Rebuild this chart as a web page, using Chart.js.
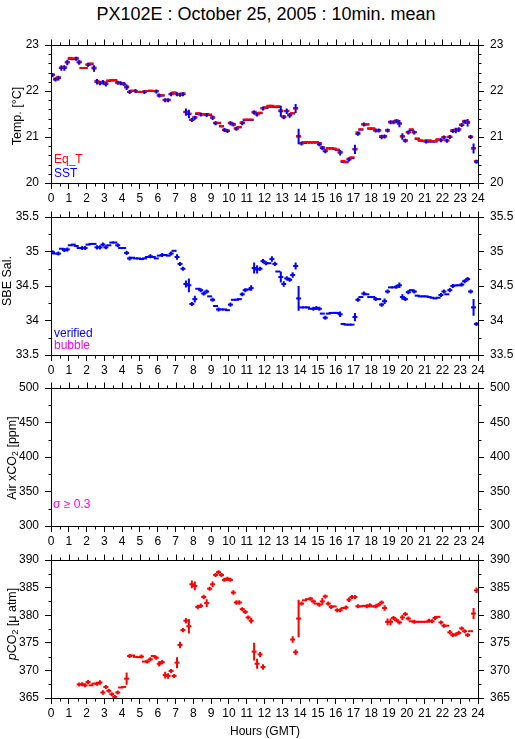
<!DOCTYPE html>
<html>
<head>
<meta charset="utf-8">
<style>
  html,body{margin:0;padding:0;background:#fff;}
  body{width:515px;height:739px;position:relative;overflow:hidden;font-family:"Liberation Sans",Arial,Helvetica,sans-serif;color:#000;}
  canvas{position:absolute;left:0;}
  .t{position:absolute;white-space:nowrap;line-height:1;}
  .yl{position:absolute;width:0;height:0;}
  .yl span{position:absolute;left:0;top:0;transform:translate(-50%,-50%) rotate(-90deg);white-space:nowrap;font-size:12.5px;line-height:1;}
  sub{font-size:70%;vertical-align:-2px;line-height:0;}
</style>
<script src="https://cdn.jsdelivr.net/npm/chart.js@4.4.1/dist/chart.umd.min.js"></script>
</head>
<body>
<div class="t" style="left:266px;top:4.8px;font-size:18px;transform:translateX(-50%)">PX102E : October 25, 2005 : 10min. mean</div>

<canvas id="c1" width="515" height="179" style="top:30px"></canvas>
<canvas id="c2" width="515" height="179" style="top:202px"></canvas>
<canvas id="c3" width="515" height="179" style="top:373px"></canvas>
<canvas id="c4" width="515" height="179" style="top:545px"></canvas>

<div class="yl" style="left:17px;top:116px"><span>Temp. [°C]</span></div>
<div class="yl" style="left:7px;top:281px"><span>SBE Sal.</span></div>
<div class="yl" style="left:12px;top:458px"><span>Air xCO<sub>2</sub> [ppm]</span></div>
<div class="yl" style="left:12px;top:624px"><span><i>p</i>CO<sub>2</sub> [μ atm]</span></div>

<div class="t" style="left:54px;top:153.1px;font-size:12px;color:#f00">Eq_T</div>
<div class="t" style="left:54px;top:166.5px;font-size:12px;color:#00f">SST</div>
<div class="t" style="left:54px;top:326.5px;font-size:12px;color:#00f">verified</div>
<div class="t" style="left:54px;top:339.1px;font-size:12px;color:#f0f">bubble</div>
<div class="t" style="left:53px;top:498.1px;font-size:12px;color:#f0f">σ ≥ 0.3</div>

<div class="t" style="left:265px;top:725.3px;font-size:12px;transform:translateX(-50%)">Hours (GMT)</div>

<script>
// ---------- tick labels ----------
const X_TICKS = [0,1,2,3,4,5,6,7,8,9,10,11,12,13,14,15,16,17,18,19,20,21,22,23,24];
const TEMP_TICKS = [20,21,22,23];
const SAL_TICKS = [33.5,34,34.5,35,35.5];
const AIR_TICKS = [300,350,400,450,500];
const PCO2_TICKS = [365,370,375,380,385,390];

// ---------- 10-min slot centres (minutes, GMT) ----------
const slotMin = [
  5,15,25,35,45,55,65,75,85,95,105,115,
  125,135,145,155,165,175,185,195,205,215,225,235,
  245,255,265,275,285,295,305,315,325,335,345,355,
  365,375,385,395,405,415,425,435,445,455,465,475,
  485,495,505,515,525,535,545,555,565,575,585,595,
  605,615,625,635,645,655,665,675,685,695,705,715,
  725,735,745,755,765,775,785,795,805,815,825,835,
  845,855,865,875,885,895,905,915,925,935,945,955,
  965,975,985,995,1005,1015,1025,1035,1045,1055,1065,1075,
  1085,1095,1105,1115,1125,1135,1145,1155,1165,1175,1185,1195,
  1205,1215,1225,1235,1245,1255,1265,1275,1285,1295,1305,1315,
  1325,1335,1345,1355,1365,1375,1385,1395,1405,1415,1425,1435
];

// ---------- Temperature ----------
const sstVal = [
  22.35,22.25,22.28,22.50,22.50,22.62,22.70,22.69,22.70,22.62,22.50,22.50,
  22.57,22.58,22.49,22.20,22.17,22.19,22.15,22.22,22.23,22.23,22.18,22.17,
  22.15,22.08,21.98,22.00,22.00,21.98,21.98,21.98,22.00,22.00,22.00,21.99,
  21.90,21.90,21.80,21.80,21.93,21.96,21.93,21.92,21.93,21.54,21.50,21.37,
  21.42,21.50,21.49,21.49,21.48,21.48,21.42,21.30,21.30,21.23,21.15,21.13,
  21.30,21.27,21.18,21.21,21.30,21.37,21.37,21.37,21.53,21.49,21.52,21.62,
  21.63,21.66,21.66,21.65,21.65,21.56,21.43,21.56,21.47,21.51,21.62,21.01,
  20.86,20.87,20.88,20.88,20.88,20.88,20.84,20.76,20.69,20.75,20.75,20.74,
  20.72,20.66,20.46,20.45,20.51,20.54,20.73,21.07,21.16,21.27,21.27,21.18,
  21.18,21.14,21.14,21.00,21.01,21.14,21.32,21.32,21.34,21.29,21.01,20.92,
  21.10,21.15,21.10,20.96,20.92,20.91,20.90,20.90,20.90,20.90,20.94,20.93,
  20.99,20.92,21.00,21.13,21.14,21.16,21.26,21.33,21.31,21.00,20.75,20.46
];
const sstErr = [
  .03,.03,.05,.06,.06,.06,0,0,.03,.05,0,0,
  .03,0,.07,.06,.04,.05,.05,0,0,0,.02,.02,
  .03,.06,.03,0,.02,0,0,.02,0,0,0,.02,
  .03,0,.04,.03,.02,0,.03,.04,.04,.08,.09,.03,
  .03,0,.02,0,.04,0,.05,.03,0,0,.03,.02,
  .04,.04,.03,0,.04,0,0,0,.04,.04,0,.03,
  0,0,0,0,0,.12,.04,.06,.05,0,.1,.17,
  .03,0,0,0,0,0,.04,.03,.03,0,0,0,
  0,.06,0,0,.03,0,.1,.03,0,.02,0,0,
  0,.02,.02,.05,.03,.02,.04,.02,.04,.08,.07,.03,
  .04,0,.03,0,0,0,.02,0,0,0,0,.03,
  .02,.02,.02,.03,.06,.05,.03,.03,.08,.02,.11,.04
];
const eqtVal = [
  22.36,22.27,22.30,22.51,22.52,22.63,22.72,22.71,22.72,22.64,22.50,22.50,
  22.58,22.60,22.51,22.22,22.18,22.20,22.17,22.23,22.24,22.24,22.19,22.17,
  22.16,22.10,21.98,22.01,22.00,21.98,21.98,21.99,22.00,22.01,22.00,22.00,
  21.91,21.91,21.81,21.81,21.94,21.97,21.94,21.93,21.95,21.55,21.51,21.38,
  21.43,21.52,21.50,21.50,21.50,21.49,21.43,21.31,21.31,21.24,21.16,21.14,
  21.31,21.28,21.19,21.22,21.32,21.38,21.38,21.38,21.55,21.50,21.53,21.63,
  21.65,21.68,21.68,21.66,21.67,21.58,21.45,21.57,21.49,21.52,21.63,21.02,
  20.87,20.89,20.89,20.89,20.89,20.89,20.87,20.78,20.71,20.76,20.76,20.75,
  20.73,20.68,20.48,20.46,20.53,20.56,20.74,21.10,21.17,21.28,21.28,21.19,
  21.19,21.15,21.15,21.02,21.02,21.15,21.33,21.33,21.36,21.30,21.02,20.93,
  21.11,21.17,21.11,20.97,20.93,20.92,20.92,20.93,20.91,20.91,20.95,20.94,
  21.00,20.93,21.01,21.15,21.16,21.17,21.27,21.35,21.33,21.01,20.76,20.48
];

// ---------- Salinity ----------
const salVal = [
  34.99,34.97,34.97,35.04,35.02,35.03,35.09,35.10,35.08,35.05,35.05,35.05,
  35.10,35.11,35.11,35.06,35.06,35.10,35.06,35.09,35.13,35.13,35.09,35.05,
  35.05,34.98,34.90,34.91,34.90,34.90,34.89,34.90,34.92,34.93,34.92,34.90,
  34.94,34.95,34.95,34.94,34.97,35.01,34.92,34.82,34.75,34.53,34.51,34.24,
  34.31,34.46,34.44,34.39,34.42,34.35,34.30,34.21,34.16,34.16,34.16,34.15,
  34.23,34.30,34.30,34.31,34.38,34.44,34.45,34.47,34.76,34.74,34.75,34.86,
  34.83,34.83,34.89,34.82,34.71,34.63,34.53,34.61,34.59,34.66,34.79,34.32,
  34.19,34.19,34.19,34.17,34.17,34.18,34.17,34.10,34.04,34.10,34.11,34.11,
  34.11,34.09,33.95,33.94,33.94,33.94,34.05,34.30,34.34,34.39,34.38,34.34,
  34.34,34.31,34.31,34.23,34.28,34.42,34.48,34.48,34.49,34.51,34.34,34.31,
  34.41,34.44,34.42,34.36,34.35,34.35,34.35,34.34,34.33,34.32,34.33,34.37,
  34.42,34.38,34.44,34.50,34.51,34.51,34.52,34.57,34.60,34.42,34.19,33.95
];
const salErr = [
  .02,0,.02,0,.02,.02,0,0,0,0,.02,.02,
  0,0,0,.03,.03,.02,.02,0,0,0,.01,0,
  0,.03,.02,0,0,0,0,0,0,.01,0,0,
  0,.01,0,0,.02,0,.04,.01,.03,.05,.1,.02,
  .05,0,.02,.02,.03,0,.03,0,.02,0,0,0,
  .03,0,0,0,.02,.02,0,.04,.08,.06,.02,.03,
  .02,0,.04,.03,0,.08,.04,.03,.03,.04,.05,.18,
  0,0,0,0,.02,.02,.03,0,.02,0,0,0,
  0,.04,0,0,0,0,.06,.02,0,.02,0,0,
  0,.02,0,.02,.04,.03,0,0,.02,.04,.04,.02,
  .03,0,.03,0,0,0,0,0,0,0,0,.03,
  .02,0,.03,.02,0,0,.02,.02,.03,.01,.12,.03
];

// ---------- Air xCO2 (no data this day) ----------
const airMin = [];
const airVal = [];

// ---------- pCO2 ----------
const pco2Min = [
  95,105,115,125,135,145,155,165,175,185,195,205,215,225,235,245,255,265,275,285,295,
  305,315,325,335,345,355,365,375,385,395,405,415,425,435,445,455,465,475,485,495,505,
  515,525,535,545,555,565,575,585,595,605,615,625,635,645,655,665,675,685,695,705,715,
  815,825,835,845,855,865,875,885,895,905,915,925,935,945,955,965,975,985,995,1005,1015,
  1025,1035,1045,1055,1065,1075,1085,1095,1105,1115,1125,1135,1145,1155,1165,1175,1185,1195,1205,1215,1225,
  1235,1245,1255,1265,1275,1285,1295,1305,1315,1325,1335,1345,1355,1365,1375,1385,1395,1405,1415,1425,1435
];
const pco2Val = [
  367.45,367.5,367.3,367.9,367.3,367.6,367.6,367.8,366.0,367.0,366.3,365.7,365.2,366.0,366.9,367.0,368.5,372.6,372.7,372.45,372.4,
  372.5,371.6,371.6,372.0,372.6,372.3,371.2,371.5,369.15,369.0,369.9,369.0,371.4,374.6,377.3,379.0,378.0,385.6,385.3,381.5,381.7,
  383.3,382.2,384.8,385.6,387.3,387.8,387.3,386.4,386.6,386.4,384.1,382.3,382.3,381.1,380.6,379.6,379.0,373.4,371.2,372.9,370.6,
  375.6,373.3,379.4,382.1,382.7,382.9,383.0,382.5,382.1,381.9,382.5,383.4,382.1,381.5,381.6,380.9,380.9,381.3,381.4,382.8,383.3,
  383.3,381.6,381.6,381.7,381.6,381.8,381.6,381.6,381.9,382.3,381.3,378.8,378.8,379.5,379.1,378.7,379.6,380.2,379.4,378.9,378.8,
  378.8,378.8,378.8,378.8,379.0,378.9,379.5,379.7,378.7,378.1,378.1,376.9,376.4,376.5,376.8,377.6,377.1,376.4,377.1,380.3,384.5
];
const pco2Err = [
  .2,.3,.3,.2,0,0,.2,.4,.4,.3,.2,.2,.2,.3,0,0,1.1,.2,0,0,0,
  .2,0,.2,.3,0,.2,.5,.4,.6,.5,.2,.3,1.0,.6,.4,.5,1.3,.7,.8,.4,.4,
  .4,.7,.2,.5,.2,.2,.3,.2,.2,.3,.4,.4,.4,.2,.3,.3,.5,1.6,.9,.5,.5,
  .6,.5,3.4,.3,0,0,.2,.3,0,.2,.6,.2,.4,.2,0,.3,.3,0,.2,.4,.2,
  .2,.2,0,0,.2,.2,0,.2,.2,.2,.5,.6,.6,.2,.3,.2,.5,.3,.2,0,.2,
  0,0,0,0,.2,.2,.3,0,.3,.3,0,.4,.2,.2,.2,.2,.3,.2,0,1.0,.5
];

// ---------- styling ----------
const RED = '#ff0000', BLUE = '#0000ff', MAG = '#ff00ff';
const FONT = { family: '"Liberation Sans", Arial, Helvetica, sans-serif', size: 12 };

function pts(mins, vals) {
  return mins.map((m, i) => ({ x: m / 60, y: vals[i] }));
}

// frame, top ticks and minor ticks (positions from the chart's scales)
const frameTicks = {
  id: 'frameTicks',
  afterDraw(chart) {
    const o = chart.options.plugins.frameTicks;
    const { ctx, chartArea: a } = chart;
    const xs = chart.scales.x, ys = chart.scales.y;
    const L = Math.round(a.left) + 0.5, R = Math.round(a.right) + 0.5;
    const T = Math.round(a.top) + 0.5, B = Math.round(a.bottom) + 0.5;
    ctx.save();
    ctx.strokeStyle = '#000';
    ctx.lineWidth = 1;
    ctx.beginPath();
    ctx.rect(L, T, R - L, B - T);
    const nx = Math.round((xs.max - xs.min) / o.xMinor);
    for (let i = 0; i <= nx; i++) {
      const px = Math.round(xs.getPixelForValue(xs.min + i * o.xMinor)) + 0.5;
      const major = i % o.xRatio === 0;
      const len = major ? 6 : 3;
      ctx.moveTo(px, T); ctx.lineTo(px, T - len);
      if (!major) { ctx.moveTo(px, B); ctx.lineTo(px, B + 3); }
    }
    const ny = Math.round((ys.max - ys.min) / o.yMinor);
    for (let i = 0; i <= ny; i++) {
      if (i % o.yRatio === 0) continue;
      const py = Math.round(ys.getPixelForValue(ys.min + i * o.yMinor)) + 0.5;
      ctx.moveTo(L, py); ctx.lineTo(L - 3, py);
      ctx.moveTo(R, py); ctx.lineTo(R + 3, py);
    }
    ctx.stroke();
    ctx.restore();
  }
};

// vertical error bars through the y scale
const errBars = {
  id: 'errBars',
  afterDatasetsDraw(chart) {
    const ctx = chart.ctx, ys = chart.scales.y;
    chart.data.datasets.forEach((ds, i) => {
      if (!ds.errors) return;
      const meta = chart.getDatasetMeta(i);
      ctx.save();
      ctx.strokeStyle = ds.pointBorderColor;
      ctx.lineWidth = 2;
      ctx.beginPath();
      ctx.rect(chart.chartArea.left, chart.chartArea.top, chart.chartArea.width, chart.chartArea.height);
      ctx.clip();
      ctx.beginPath();
      meta.data.forEach((p, j) => {
        const e = ds.errors[j];
        if (!e) return;
        const v = ds.data[j].y;
        let h = Math.abs(ys.getPixelForValue(v + e) - p.y);
        h = Math.max(h, 2);
        ctx.moveTo(p.x, p.y - h); ctx.lineTo(p.x, p.y + h);
      });
      ctx.stroke();
      ctx.restore();
    });
  }
};

function ds(data, color, errors) {
  return {
    data, errors, showLine: false,
    pointStyle: 'line', pointRadius: 2.5, pointHoverRadius: 2.5,
    pointBorderWidth: 2, pointBorderColor: color, pointBackgroundColor: color,
    borderColor: color, backgroundColor: color
  };
}

function yAxis(pos, min, max, ticksArr, width, pad) {
  return {
    type: 'linear', position: pos, min, max,
    afterBuildTicks: s => { s.ticks = ticksArr.map(v => ({ value: v })); },
    afterFit: s => { s.width = width; },
    ticks: { color: '#000', font: FONT, padding: pad, callback: v => String(v) },
    grid: { drawOnChartArea: false, drawTicks: true, tickLength: 6, color: '#000', lineWidth: 1 },
    border: { display: true, color: '#000', width: 1 }
  };
}

function panel(id, yMin, yMax, yTicks, yMinor, yRatio, datasets) {
  return new Chart(document.getElementById(id), {
    type: 'scatter',
    data: { datasets },
    options: {
      responsive: false, animation: false, events: [],
      layout: { padding: { top: 15, left: 0, right: 0, bottom: 0 } },
      plugins: {
        legend: { display: false }, tooltip: { enabled: false }, title: { display: false },
        frameTicks: { xMinor: 0.5, xRatio: 2, yMinor, yRatio }
      },
      scales: {
        x: {
          type: 'linear', position: 'bottom', min: 0, max: 24,
          afterBuildTicks: s => { s.ticks = X_TICKS.map(v => ({ value: v })); },
          afterFit: s => { s.height = 26; },
          ticks: { color: '#000', font: FONT, padding: 2, autoSkip: false, maxRotation: 0, callback: v => String(v) },
          grid: { drawOnChartArea: false, drawTicks: true, tickLength: 6, color: '#000', lineWidth: 1 },
          border: { display: true, color: '#000', width: 1 }
        },
        y: yAxis('left', yMin, yMax, yTicks, 51, 6),
        y2: yAxis('right', yMin, yMax, yTicks, 37, 6)
      }
    },
    plugins: [frameTicks, errBars]
  });
}

panel('c1', 20, 23, TEMP_TICKS, 0.2, 5, [
  ds(pts(slotMin, eqtVal), RED, null),
  ds(pts(slotMin, sstVal), BLUE, sstErr)
]);
panel('c2', 33.5, 35.5, SAL_TICKS, 0.25, 2, [
  ds(pts(slotMin, salVal), BLUE, salErr)
]);
panel('c3', 300, 500, AIR_TICKS, 25, 2, [
  ds(pts(airMin, airVal), MAG, null)
]);
panel('c4', 365, 390, PCO2_TICKS, 2.5, 2, [
  ds(pts(pco2Min, pco2Val), RED, pco2Err)
]);
</script>
</body>
</html>
